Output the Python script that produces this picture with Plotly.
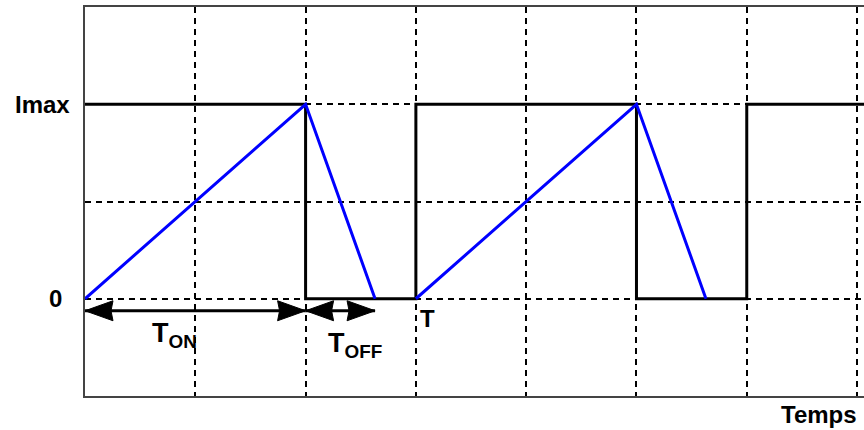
import plotly.graph_objects as go

# Chopper current: command signal (black) and inductor current (blue)
period = 3.0
t_on = 2.0
t_off = 0.63
imax = 1.0
x_end = 7.063

wave_x = [0, 2, 2, 3, 3, 5, 5, 6, 6, 7.2]
wave_y = [1, 1, 0, 0, 1, 1, 0, 0, 1, 1]

current_x = [0, 2, 2.63, None, 3, 5, 5.63]
current_y = [0, 1, 0, None, 0, 1, 0]

y_labels = ["0", "Imax"]
y_label_vals = [0, 1]

BLACK = "#000000"
BLUE = "#0000ff"
FONT = "Liberation Sans, Arial, sans-serif"

fig = go.Figure()

fig.add_trace(go.Scatter(
    x=wave_x, y=wave_y, mode="lines",
    line=dict(color=BLACK, width=3), hoverinfo="skip", showlegend=False,
))
fig.add_trace(go.Scatter(
    x=current_x, y=current_y, mode="lines",
    line=dict(color=BLUE, width=3), hoverinfo="skip", showlegend=False,
))

# Double-headed dimension arrows for T_ON and T_OFF
px_per_x = (864 - 85) / x_end
px_per_y = 389 / 2.0
head_len = 28 / px_per_x
head_half = 10 / px_per_y
notch = 2 / px_per_x
arrow_y = -12 / px_per_y


def head(tip, direction):
    back = tip + direction * head_len
    mid = back - direction * notch
    return (f"M {tip},{arrow_y} L {back},{arrow_y + head_half} "
            f"L {mid},{arrow_y} L {back},{arrow_y - head_half} Z")


shapes = []
for a, b in [(0, t_on), (t_on, t_on + t_off)]:
    shapes.append(dict(type="line", x0=a, x1=b, y0=arrow_y, y1=arrow_y,
                       line=dict(color=BLACK, width=3), layer="above"))
    shapes.append(dict(type="path", path=head(a, 1), fillcolor=BLACK,
                       line=dict(color=BLACK, width=1), layer="above"))
    shapes.append(dict(type="path", path=head(b, -1), fillcolor=BLACK,
                       line=dict(color=BLACK, width=1), layer="above"))

label_font = dict(family=FONT, size=24, color=BLACK, weight="bold")
time_font = dict(family=FONT, size=27, color=BLACK, weight="bold")

annotations = [
    dict(x=0, y=y_label_vals[1], xref="paper", xshift=-13, text=y_labels[1],
         xanchor="right", yanchor="middle", showarrow=False, font=label_font),
    dict(x=0, y=y_label_vals[0], xref="paper", xshift=-21, text=y_labels[0],
         xanchor="right", yanchor="middle", showarrow=False, font=label_font),
    dict(x=65 / px_per_x, y=-36 / px_per_y, text="T<sub>ON</sub>",
         xanchor="left", yanchor="middle", showarrow=False, font=time_font),
    dict(x=t_on + 20 / px_per_x, y=-46 / px_per_y, text="T<sub>OFF</sub>",
         xanchor="left", yanchor="middle", showarrow=False, font=time_font),
    dict(x=period + 12 / px_per_x, y=-20 / px_per_y, text="T",
         xanchor="center", yanchor="middle", showarrow=False, font=label_font),
    dict(x=1.0, y=-0.5, xref="paper", text="Temps", xshift=-5,
         xanchor="right", yanchor="top", yshift=-3, showarrow=False, font=label_font),
]

fig.update_layout(
    width=864, height=430,
    margin=dict(l=85, r=0, t=7, b=34),
    paper_bgcolor="white", plot_bgcolor="white",
    shapes=shapes, annotations=annotations,
    xaxis=dict(
        range=[0, x_end], tickvals=[1, 2, 3, 4, 5, 6, 7], showticklabels=False,
        showgrid=True, gridcolor=BLACK, gridwidth=1.5, griddash="6px,5px",
        zeroline=False, showline=True, linecolor="#444444", linewidth=2,
        mirror=True, ticks="",
    ),
    yaxis=dict(
        range=[-0.5, 1.5], tickvals=[0, 0.5, 1], showticklabels=False,
        showgrid=True, gridcolor=BLACK, gridwidth=1.5, griddash="6px,5px",
        zeroline=False, showline=True, linecolor="#444444", linewidth=2,
        mirror=False, ticks="",
    ),
)

fig.write_html("out.html")
